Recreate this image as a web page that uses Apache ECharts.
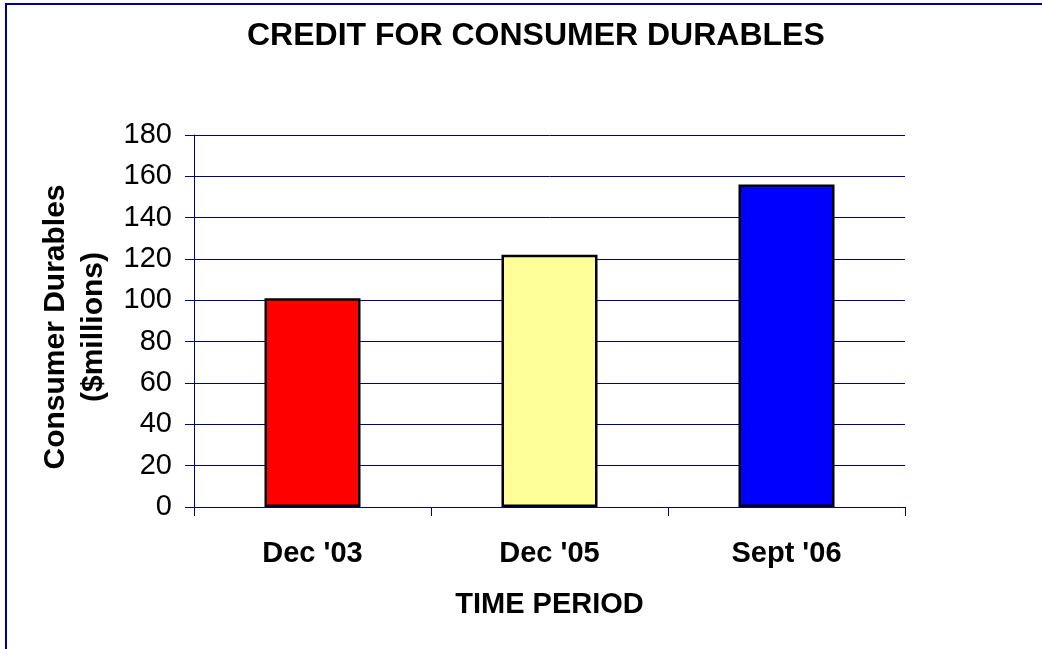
<!DOCTYPE html>
<html>
<head>
<meta charset="utf-8">
<script src="https://cdn.jsdelivr.net/npm/echarts@6/dist/echarts.min.js"></script>
<style>
  html, body { margin: 0; padding: 0; background: #fff; }
  #chart { width: 1042px; height: 649px; }
</style>
</head>
<body>
<div id="chart"></div>
<script>
// data
var periods = ["Dec '03", "Dec '05", "Sept '06"];
var credit = [101, 122, 156];
var barColors = ["#ff0000", "#ffff99", "#0000ff"];
var yTicks = { min: 0, max: 180, step: 20 };

var navy = "#000080";
var font = "Liberation Sans, Arial, sans-serif";

var myChart = echarts.init(document.getElementById("chart"));

var bars = [];
for (let i = 0; i < credit.length; i++) {
  bars.push({
    value: credit[i],
    itemStyle: { color: barColors[i] },
  });
}

myChart.setOption({
  animation: false,
  backgroundColor: "#fff",
  title: {
    text: "CREDIT FOR CONSUMER DURABLES",
    left: 242,
    top: 15,
    textStyle: { fontFamily: font, fontSize: 32, fontWeight: "bold", color: "#000" },
  },
  // frame round the chart (only top / left edges show in the picture)
  graphic: [
    {
      type: "rect",
      shape: { x: 6, y: 4, width: 1200, height: 800 },
      style: { fill: "none", stroke: "#000099", lineWidth: 2 },
      silent: true,
    },
  ],
  grid: { left: 194, right: 137, top: 135, bottom: 142 },
  xAxis: {
    type: "category",
    data: periods,
    name: "TIME PERIOD",
    nameLocation: "middle",
    nameGap: 83,
    nameTextStyle: { fontFamily: font, fontSize: 29, fontWeight: "bold", color: "#000" },
    axisLine: { lineStyle: { color: navy, width: 1 } },
    axisTick: { show: true, length: 9, lineStyle: { color: navy } },
    axisLabel: { margin: 32, fontFamily: font, fontSize: 29, fontWeight: "bold", color: "#000" },
  },
  yAxis: {
    type: "value",
    min: yTicks.min,
    max: yTicks.max,
    interval: yTicks.step,
    name: "Consumer Durables\n($millions)",
    nameLocation: "middle",
    nameGap: 81,
    nameTextStyle: {
      fontFamily: font, fontSize: 30, fontWeight: "bold", color: "#000", lineHeight: 38, align: "center",
      padding: [0, 12, 0, 0],
    },
    axisLine: { show: true, lineStyle: { color: navy, width: 1 } },
    axisTick: { show: true, length: 9, lineStyle: { color: navy } },
    axisLabel: { margin: 22, fontFamily: font, fontSize: 29, color: "#000" },
    splitLine: { lineStyle: { color: navy, width: 1 } },
  },
  series: [
    {
      type: "bar",
      data: bars,
      barWidth: 96,
      itemStyle: { borderColor: "#000", borderWidth: 2.5 },
    },
  ],
});
</script>
</body>
</html>
